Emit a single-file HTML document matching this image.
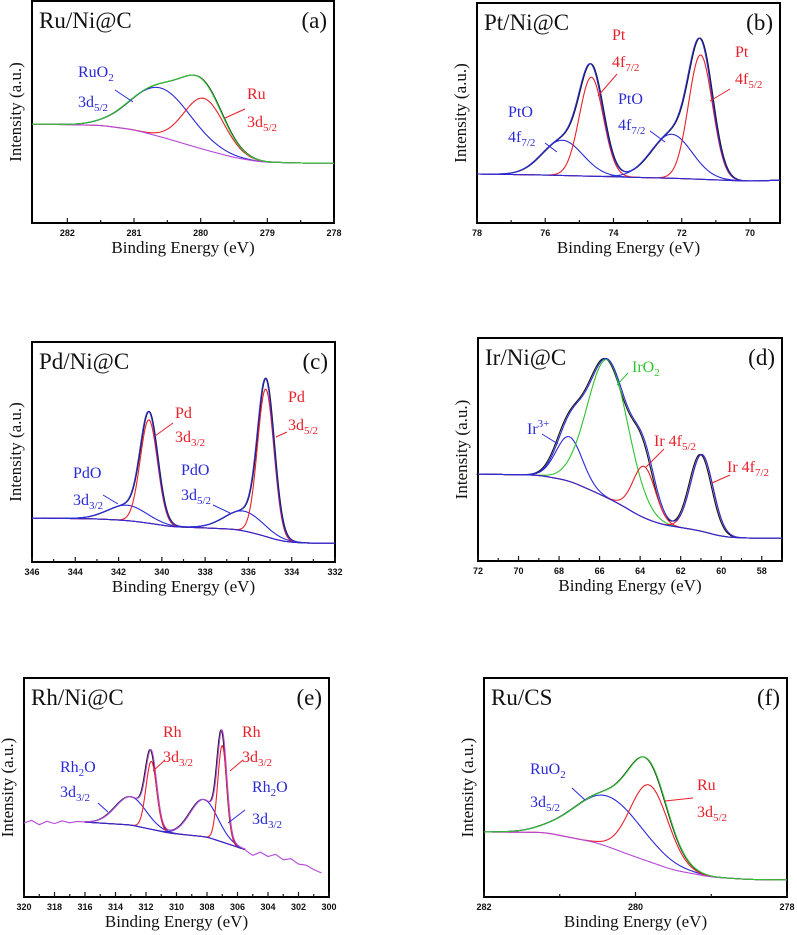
<!DOCTYPE html>
<html><head><meta charset="utf-8"><style>
html,body{margin:0;padding:0;background:#fff;}
body{position:relative;width:797px;height:935px;overflow:hidden;}
svg{display:block;position:absolute;left:0;top:0;}
.fr{position:absolute;border:2px solid #000;box-sizing:border-box;}
text{font-family:"Liberation Serif",serif;}
.tick{font-family:"Liberation Sans",sans-serif;font-size:9px;font-weight:bold;fill:#111;}
.ttl{font-size:23px;fill:#111;}
.ax{font-size:17px;fill:#111;}
.lb{font-size:16px;}
</style></head><body>
<div class="fr" style="left:31px;top:0px;width:304px;height:224px"></div>
<div class="fr" style="left:476px;top:2px;width:305px;height:222px"></div>
<div class="fr" style="left:31px;top:341px;width:305px;height:222px"></div>
<div class="fr" style="left:477px;top:337px;width:306px;height:225px"></div>
<div class="fr" style="left:23px;top:677px;width:307px;height:221px"></div>
<div class="fr" style="left:483px;top:677px;width:305px;height:221px"></div>
<svg id="fig" width="797" height="935" viewBox="0 0 797 935" xmlns="http://www.w3.org/2000/svg"></svg>
<script>
// ---- data (energies in eV, intensities in % of plot height) ----
const aBase = [[282.53,44.6],[281.5,44],[281,42],[280.5,38],[280,33.5],[279.5,29.5],[279.1,27.5],[278.5,27],[278,27]];
const aCenters = [280.6,279.95];
const aHeights = [22,23];
const aWidths = [0.45,0.3];
const bBase = [[78,22.3],[76,21.8],[74,21],[72,20.2],[70,19],[69.12,19.5]];
const bCenters = [75.5,74.65,72.3,71.45];
const bHeights = [16,45,20,56.5];
const bWidths = [0.6,0.35,0.6,0.35];
const cBase = [[346,20],[343,19.6],[341.5,18.8],[340.5,17.5],[339.5,16],[338,15.5],[336.5,14.8],[335.5,12.5],[334.5,9.5],[333.5,8.6],[332,8.6]];
const cCenters = [341.6,340.6,336.2,335.2];
const cHeights = [7,47,9,67];
const cWidths = [0.9,0.4,0.9,0.38];
const dBase = [[72,39],[69,38.5],[67.5,36],[66,30],[65,25.5],[64,20],[63,16.5],[62,15],[61,13.5],[60,11],[59,10.3],[57,10.3]];
const dCenters = [67.5,65.6,63.8,60.95];
const dHeights = [20,62,23,34.5];
const dWidths = [0.65,1.0,0.55,0.55];
const eBase = [[316,34.2],[313,32.9],[310.5,29.2],[308,27.4],[306,22.8],[305.5,21.5]];
const eCenters = [313.0,311.65,308.2,307.0];
const eHeights = [13,31,17,44];
const eWidths = [1.0,0.35,0.9,0.3];
const eTailLeft = [[320,33.8],[319.5,35],[319,33],[318.5,34.6],[318,33.5],[317.5,34.8],[317,33.9],[316.5,34.5],[316,34.2]];
const eTailRight = [[305.5,21.5],[305,19],[304.5,20.5],[304,18.5],[303.5,19.5],[303,17],[302.5,17.5],[302,15],[301.5,14.5],[301,12.5],[300.5,11]];
const fBase = [[282,29.7],[281.2,29.5],[280.5,24.7],[280,18.3],[279.5,12.3],[279,9.1],[278.5,8],[278,7.8]];
const fCenters = [280.36,279.82];
const fHeights = [23,35];
const fWidths = [0.45,0.25];

const NS="http://www.w3.org/2000/svg";
const svg=document.getElementById('fig');
function mk(tag,attrs,parent){const e=document.createElementNS(NS,tag);for(const k in attrs)e.setAttribute(k,attrs[k]);(parent||svg).appendChild(e);return e;}
function interpLin(pts,x){
  for(let i=0;i<pts.length-1;i++){const a=pts[i],b=pts[i+1];
    const lo=Math.min(a[0],b[0]),hi=Math.max(a[0],b[0]);
    if(x>=lo&&x<=hi){const t=(x-a[0])/(b[0]-a[0]);return a[1]+(b[1]-a[1])*t;}}
  const first=pts[0],last=pts[pts.length-1];
  return Math.abs(x-first[0])<Math.abs(x-last[0])?first[1]:last[1];
}
function interp(pts,x){
  const span=Math.abs(pts[0][0]-pts[pts.length-1][0])*0.03;
  let s=0;for(let k=-4;k<=4;k++)s+=interpLin(pts,x+k*span/4);return s/9;
}
function gauss(x,c,h,s){return h*Math.exp(-(x-c)*(x-c)/(2*s*s));}

function panel(P){
  const g=mk('g',{});
  
  
  const X=e=>P.x0+(P.emax-e)/(P.emax-P.emin)*(P.x1-P.x0);
  const Y=v=>P.y1-v/100*(P.y1-P.y0);
  const N=400;
  function path(fn,e0,e1,color,nm,dx){
    let d='';for(let i=0;i<=N;i++){const e=e0+(e1-e0)*i/N;d+=(i?'L':'M')+(X(e)+(dx||0)).toFixed(2)+','+Y(fn(e)).toFixed(2);}
    const p=mk('path',{d:d,fill:'none',stroke:color,'stroke-width':1.1},g);
    
    
  }
  const base=e=>interp(P.base,e);
  const env=e=>{let s=base(e);for(let i=0;i<P.c.length;i++)s+=gauss(e,P.c[i],P.h[i],P.w[i]);return s;};
  const lo=P.fitLo!==undefined?P.fitLo:P.emin, hi=P.fitHi!==undefined?P.fitHi:P.emax;
  path(env,hi,lo,'#111','measured-spectrum',P.blackShift||0);
  for(let i=0;i<P.c.length;i++){
    const k=i;
    path(e=>base(e)+gauss(e,P.c[k],P.h[k],P.w[k]),hi,lo,P.cc[i],'fit-component-'+(i+1));
  }
  path(base,hi,lo,P.baseColor,'background-line');
  path(env,hi,lo,P.envColor,'fit-envelope');
  if(P.tails){P.tails.forEach(t=>{let d='';t.forEach((p,i)=>{d+=(i?'L':'M')+X(p[0]).toFixed(1)+','+Y(p[1]).toFixed(1);});
    const p=mk('path',{d:d,fill:'none',stroke:P.envColor,'stroke-width':1.1},g);
    
    });}
  P.ticks.forEach(t=>{
    const tx=X(t);
    const tm=mk('rect',{x:tx-0.6,y:P.y1-5,width:1.2,height:5,fill:'#1a1a1a'},g);
    
    
    const tl=mk('text',{x:tx,y:P.y1+13,'text-anchor':'middle',class:'tick'},g);
    tl.textContent=t;
    
    
  });
  P.minor.forEach(t=>{const tx=X(t);
    const mm=mk('rect',{x:tx-0.6,y:P.y1-3,width:1.2,height:3,fill:'#1a1a1a'},g);
    
    });
  const xt=mk('text',{x:(P.x0+P.x1)/2,y:P.y1+30,'text-anchor':'middle',class:'ax'},g);
  xt.textContent='Binding Energy (eV)';
  
  
  const yx=P.x0-11, yy=(P.y0+P.y1)/2;
  const yt=mk('text',{x:yx,y:yy,'text-anchor':'middle',class:'ax',transform:'rotate(-90 '+yx+' '+yy+')'},g);
  yt.textContent='Intensity (a.u.)';
  
  
  const tt=mk('text',{x:P.x0+7,y:P.y0+27,class:'ttl'},g);
  tt.textContent=P.title;
  
  
  const pl=mk('text',{x:P.x1-7,y:P.y0+27,class:'ttl','text-anchor':'end'},g);
  pl.textContent=P.letter;
  
  
  P.labels.forEach(L=>{
    const t=mk('text',{x:L[0],y:L[1],class:'lb',fill:L[3]},g);
    
    
    const parts=L[2].split('_');
    const s1=mk('tspan',{},t);s1.textContent=parts[0];
    if(parts[1]){const s2=mk('tspan',{'font-size':'11px',dy:'4'},t);s2.textContent=parts[1];}
    if(parts[2]){const s4=mk('tspan',{dy:'-4'},t);s4.textContent=parts[2];}
    if(L[4]){const s3=mk('tspan',{'font-size':'11px',dy:'-7'},t);s3.textContent=L[4];}
  });
  P.leaders.forEach(l=>{const ln=mk('line',{x1:l[0],y1:l[1],x2:l[2],y2:l[3],stroke:l[4],'stroke-width':1},g);
    
    });
}
const B='#2a2ad6',R='#e8202a',G='#2ec42e',M='#b448d8';
panel({name:'panel-a',x0:32,x1:334,y0:1,y1:223,emax:282.53,emin:278,base:aBase,c:aCenters,h:aHeights,w:aWidths,cc:[B,R],
 baseColor:M,envColor:G,blackShift:0.6,ticks:[282,281,280,279,278],minor:[281.5,280.5,279.5,278.5],title:'Ru/Ni@C',letter:'(a)',
 labels:[[78,77,'RuO_2',B],[78,107,'3d_5/2',B],[247,99,'Ru',R],[247,127,'3d_5/2',R]],
 leaders:[[115,90,133,102,B],[245,109,225,118,R]]});
panel({name:'panel-b',x0:477,x1:780,y0:3,y1:223,emax:78,emin:69.12,base:bBase,c:bCenters,h:bHeights,w:bWidths,cc:[B,R,B,R],
 baseColor:B,envColor:B,blackShift:0.8,ticks:[78,76,74,72,70],minor:[77,75,73,71],title:'Pt/Ni@C',letter:'(b)',
 labels:[[612,40,'Pt',R],[612,67,'4f_7/2',R],[508,117,'PtO',B],[508,142,'4f_7/2',B],[618,104,'PtO',B],[618,130,'4f_7/2',B],[735,57,'Pt',R],[735,84,'4f_5/2',R]],
 leaders:[[617,74,598,96,R],[545,143,557,152,B],[650,131,665,142,B],[730,89,710,101,R]]});
panel({name:'panel-c',x0:32,x1:335,y0:342,y1:562,emax:346,emin:332,base:cBase,c:cCenters,h:cHeights,w:cWidths,cc:[B,R,B,R],
 baseColor:B,envColor:B,blackShift:0.6,ticks:[346,344,342,340,338,336,334,332],minor:[345,343,341,339,337,335,333],title:'Pd/Ni@C',letter:'(c)',
 labels:[[175,418,'Pd',R],[175,442,'3d_3/2',R],[288,402,'Pd',R],[288,430,'3d_5/2',R],[73,478,'PdO',B],[73,505,'3d_3/2',B],[181,475,'PdO',B],[181,500,'3d_5/2',B]],
 leaders:[[173,423,155,436,R],[287,432,276,437,R],[103,495,118,504,B],[213,505,230,513,B]]});
panel({name:'panel-d',x0:478,x1:782,y0:338,y1:561,emax:72,emin:57,base:dBase,c:dCenters,h:dHeights,w:dWidths,cc:[B,G,R,R],
 baseColor:B,envColor:B,blackShift:-1.5,ticks:[72,70,68,66,64,62,60,58],minor:[71,69,67,65,63,61,59,57],title:'Ir/Ni@C',letter:'(d)',
 labels:[[632,372,'IrO_2',G],[527,434,'Ir',B,'3+'],[654,446,'Ir 4f_5/2',R],[727,472,'Ir 4f_7/2',R]],
 leaders:[[628,373,617,385,G],[542,434,558,444,B],[664,449,646,467,R],[730,475,712,483,R]]});
panel({name:'panel-e',x0:24,x1:329,y0:678,y1:897,emax:320,emin:300,fitHi:316,fitLo:305.5,base:eBase,c:eCenters,h:eHeights,w:eWidths,cc:[B,R,B,R],
 baseColor:B,envColor:M,blackShift:-0.8,tails:[eTailLeft,eTailRight],ticks:[320,318,316,314,312,310,308,306,304,302,300],minor:[319,317,315,313,311,309,307,305,303,301],title:'Rh/Ni@C',letter:'(e)',
 labels:[[163,737,'Rh',R],[163,762,'3d_3/2',R],[242,737,'Rh',R],[242,762,'3d_3/2',R],[60,772,'Rh_2_O',B],[60,797,'3d_3/2',B],[252,792,'Rh_2_O',B],[252,824,'3d_3/2',B]],
 leaders:[[165,760,153,771,R],[243,760,230,771,R],[98,803,108,812,B],[245,810,228,823,B]]});
panel({name:'panel-f',x0:484,x1:787,y0:678,y1:897,emax:282,emin:278,base:fBase,c:fCenters,h:fHeights,w:fWidths,cc:[B,R],
 baseColor:M,envColor:G,blackShift:-0.6,ticks:[282,280,278],minor:[281,279],title:'Ru/CS',letter:'(f)',
 labels:[[530,774,'RuO_2',B],[530,807,'3d_5/2',B],[697,790,'Ru',R],[697,817,'3d_5/2',R]],
 leaders:[[572,788,585,800,B],[693,798,665,801,R]]});
</script>
</body></html>
